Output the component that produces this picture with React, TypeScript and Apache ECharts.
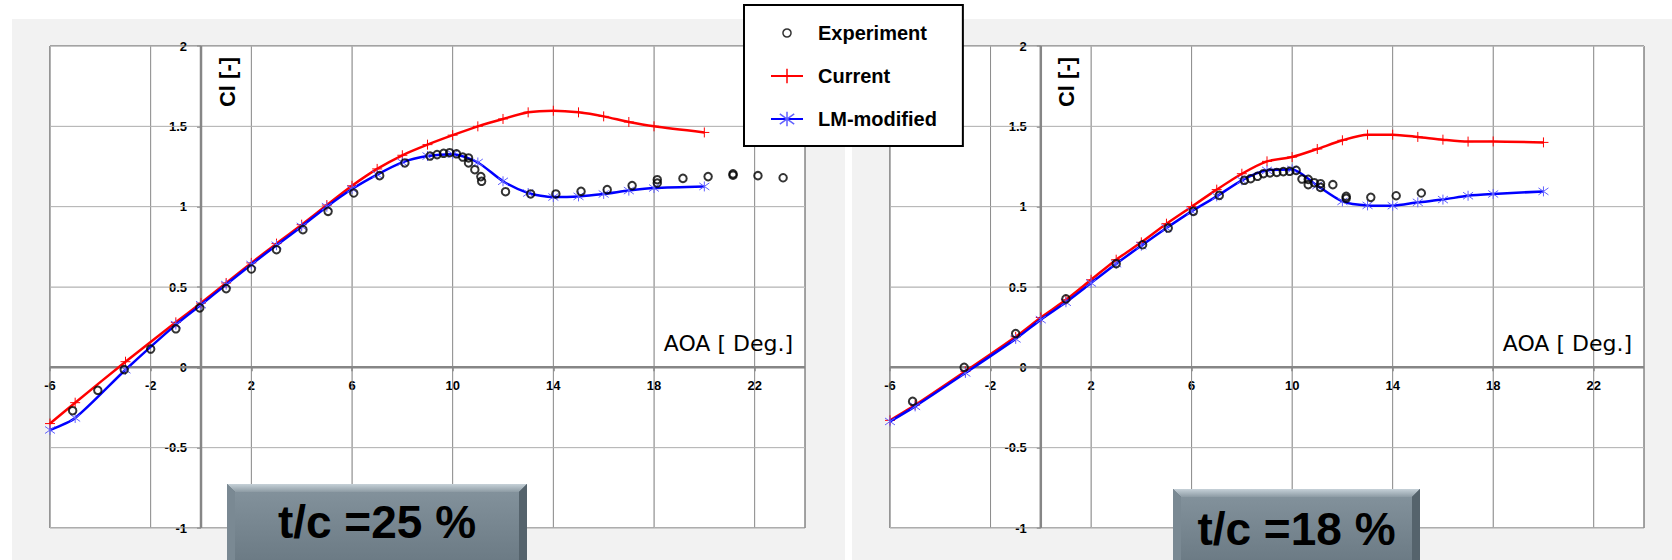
import React, { useEffect, useRef } from 'react';
import * as echarts from 'echarts';

// ---------- data ----------
const calcAoa = [-6, -5, -3, -1, 0, 1, 2, 3, 4, 5, 6, 7, 8, 9, 10, 11, 12, 13, 14, 15, 16, 17, 18, 20];

const current25 = [-0.35, -0.22, 0.035, 0.28, 0.4, 0.525, 0.65, 0.77, 0.888, 1.01, 1.13, 1.235, 1.32, 1.386, 1.445, 1.5, 1.546, 1.587, 1.597, 1.587, 1.562, 1.527, 1.5, 1.462];
const lmModified25 = [-0.39, -0.315, -0.015, 0.266, 0.39, 0.515, 0.64, 0.76, 0.877, 1.0, 1.11, 1.2, 1.276, 1.315, 1.327, 1.275, 1.158, 1.085, 1.06, 1.064, 1.079, 1.1, 1.116, 1.126];

const current18 = [-0.33, -0.235, -0.025, 0.19, 0.31, 0.42, 0.545, 0.67, 0.778, 0.894, 1.0, 1.106, 1.205, 1.282, 1.309, 1.359, 1.413, 1.448, 1.448, 1.434, 1.417, 1.405, 1.406, 1.4];
const lmModified18 = [-0.337, -0.243, -0.035, 0.177, 0.297, 0.405, 0.525, 0.645, 0.757, 0.867, 0.971, 1.064, 1.164, 1.226, 1.232, 1.131, 1.033, 1.008, 1.006, 1.027, 1.044, 1.068, 1.079, 1.095];

const expAoa25 = [-5.1, -4.1, -3.05, -2.0, -1.0, -0.05, 1.0, 2.0, 3.0, 4.05, 5.05, 6.07, 7.1, 8.1, 9.1, 9.38, 9.64, 9.88, 10.15, 10.4, 10.63, 10.63, 10.88, 11.12, 11.15, 12.1, 13.1, 14.1, 15.1, 16.14, 17.13, 18.13, 18.13, 19.15, 20.15, 21.14, 21.14, 22.13, 23.13];
const expCl25 = [-0.27, -0.143, -0.014, 0.114, 0.24, 0.37, 0.49, 0.612, 0.732, 0.857, 0.971, 1.085, 1.193, 1.272, 1.315, 1.324, 1.332, 1.336, 1.329, 1.309, 1.303, 1.272, 1.23, 1.187, 1.158, 1.093, 1.079, 1.079, 1.095, 1.106, 1.131, 1.168, 1.147, 1.176, 1.187, 1.204, 1.196, 1.193, 1.18];

const expAoa18 = [-5.1, -3.05, -1.0, 1.0, 3.0, 4.05, 5.07, 6.07, 7.1, 8.1, 8.35, 8.62, 8.86, 9.12, 9.39, 9.65, 9.9, 10.16, 10.39, 10.64, 10.64, 10.88, 11.13, 11.13, 11.62, 12.15, 12.15, 13.13, 14.14, 15.14];
const expCl18 = [-0.212, 0.0, 0.21, 0.426, 0.645, 0.763, 0.867, 0.971, 1.07, 1.164, 1.174, 1.189, 1.205, 1.21, 1.213, 1.218, 1.22, 1.226, 1.172, 1.17, 1.137, 1.149, 1.143, 1.12, 1.137, 1.064, 1.052, 1.058, 1.068, 1.085];

const xTickLabels = [-6, -2, 2, 6, 10, 14, 18, 22];
const yTickLabels = [-1, -0.5, 0, 0.5, 1, 1.5, 2];
const seriesNames = ['Experiment', 'Current', 'LM-modified'];
const panelTitles = ['t/c =25 %', 't/c =18 %'];
const xAxisName = 'AOA [ Deg.]';
const yAxisName = 'Cl [-]';

// ---------- styles / layout ----------
const FONT = '"Liberation Sans", Arial, sans-serif';
const PLUS = 'path://M5,0L5,10M0,5L10,5';
const STAR = 'path://M5,0L5,10M0,1.5L10,8.5M10,1.5L0,8.5';
const RING_ICON = 'path://M0,0ZM20,20ZM14.5,10A4.5,4.5,0,1,1,5.5,10A4.5,4.5,0,1,1,14.5,10Z';

const X_MIN = -6;
const X_MAX = 24;
const X_STEP = 2;
const Y_MIN = -1;
const Y_MAX = 2;
const Y_STEP = 0.25;

const AXIS_COLOR = '#868686';
const MAJOR_X = '#8c8c8c';
const MAJOR_Y = '#b4b4b4';
const MINOR = '#d6d6d6';

const grids = [
  { left: 50, top: 46, width: 755, height: 482 },
  { left: 890, top: 46, width: 754, height: 482 },
];
const boxes = [
  { x: 227, y: 484, w: 300, textY: 522 },
  { x: 1173, y: 489, w: 247, textY: 529 },
];

const zip = (xs: number[], ys: number[]) => xs.map((x, i) => [x, ys[i]]);

// full-height / full-width reference lines in data space, separated by gaps
const verticalLines = (xs: number[]) => xs.flatMap((x) => [[x, Y_MIN], [x, Y_MAX], [x, '-']]);
const horizontalLines = (ys: number[]) => ys.flatMap((y) => [[X_MIN, y], [X_MAX, y], ['-', y]]);

function buildOption() {
  const sets = [
    { current: current25, lm: lmModified25, expX: expAoa25, expY: expCl25 },
    { current: current18, lm: lmModified18, expX: expAoa18, expY: expCl18 },
  ];

  // axes are placed on the zero lines of each other (Excel style)
  const xAxes = grids.map((g, i) => ({
    type: 'value',
    gridIndex: i,
    min: X_MIN,
    max: X_MAX,
    interval: X_STEP,
    position: 'bottom',
    offset: -((0 - Y_MIN) / (Y_MAX - Y_MIN)) * g.height,
    axisLine: { show: false, onZero: false },
    axisTick: { show: true, length: 4, customValues: xTickLabels, lineStyle: { color: AXIS_COLOR, width: 1.5 } },
    axisLabel: {
      customValues: xTickLabels,
      formatter: (v: number) => (xTickLabels.includes(v) ? String(v) : ''),
      margin: 12,
      fontSize: 13,
      fontWeight: 'bold',
      color: '#000',
      fontFamily: FONT,
    },
    splitLine: { show: true, lineStyle: { color: MINOR, width: 1 } },
  }));

  const yAxes = grids.map((g, i) => ({
    type: 'value',
    gridIndex: i,
    min: Y_MIN,
    max: Y_MAX,
    interval: Y_STEP,
    position: 'left',
    offset: -((0 - X_MIN) / (X_MAX - X_MIN)) * g.width,
    axisLine: { show: false, onZero: false },
    axisTick: { show: true, length: 4, customValues: yTickLabels, lineStyle: { color: AXIS_COLOR, width: 1.5 } },
    axisLabel: {
      customValues: yTickLabels,
      formatter: (v: number) => (yTickLabels.includes(v) ? String(v) : ''),
      margin: 14,
      fontSize: 13,
      fontWeight: 'bold',
      color: '#000',
      fontFamily: FONT,
    },
    splitLine: { show: true, lineStyle: { color: MINOR, width: 1 } },
  }));

  const refLine = (name: string, i: number, data: any[], color: string, width: number, z: number) => ({
    name,
    type: 'line',
    xAxisIndex: i,
    yAxisIndex: i,
    data,
    symbol: 'none',
    silent: true,
    connectNulls: false,
    lineStyle: { color, width },
    z,
  });

  const series: any[] = [];
  sets.forEach((s, i) => {
    series.push(refLine('x-major-grid', i, verticalLines(xTickLabels), MAJOR_X, 1, 1));
    series.push(refLine('y-major-grid', i, horizontalLines(yTickLabels.filter((v) => v !== 0)), MAJOR_Y, 1, 1));
    series.push(refLine('zero-axes', i, [...verticalLines([0]), ...horizontalLines([0])], AXIS_COLOR, 2.5, 2));
    series.push({
      name: seriesNames[0],
      type: 'scatter',
      xAxisIndex: i,
      yAxisIndex: i,
      data: zip(s.expX, s.expY),
      symbol: 'circle',
      symbolSize: 7.5,
      itemStyle: { color: 'rgba(255,255,255,0)', borderColor: '#000', borderWidth: 2 },
      z: 5,
    });
    series.push({
      name: seriesNames[1],
      type: 'line',
      xAxisIndex: i,
      yAxisIndex: i,
      data: zip(calcAoa, s.current),
      smooth: 0.25,
      symbol: PLUS,
      symbolSize: 10,
      showAllSymbol: true,
      lineStyle: { color: '#ff0000', width: 2.5 },
      itemStyle: { color: '#ff0000', borderColor: '#ff0000', borderWidth: 1 },
      z: 3,
    });
    series.push({
      name: seriesNames[2],
      type: 'line',
      xAxisIndex: i,
      yAxisIndex: i,
      data: zip(calcAoa, s.lm),
      smooth: 0.25,
      symbol: STAR,
      symbolSize: 10,
      showAllSymbol: true,
      lineStyle: { color: '#0000ff', width: 2.5 },
      itemStyle: { color: '#0000ff', borderColor: '#6060ff', borderWidth: 1 },
      z: 4,
    });
  });

  const graphics: any[] = [
    { type: 'rect', z: -100, shape: { x: 12, y: 19, width: 833, height: 541 }, style: { fill: '#f2f2f2' } },
    { type: 'rect', z: -100, shape: { x: 852, y: 19, width: 820, height: 541 }, style: { fill: '#f2f2f2' } },
  ];

  grids.forEach((g) => {
    const yZeroX = g.left + ((0 - X_MIN) / (X_MAX - X_MIN)) * g.width;
    graphics.push({
      type: 'text',
      z: 50,
      x: yZeroX + 26,
      y: 82,
      rotation: Math.PI / 2,
      style: {
        text: yAxisName,
        fill: '#000',
        font: `bold 22px ${FONT}`,
        align: 'center',
        verticalAlign: 'middle',
      },
    });
    graphics.push({
      type: 'text',
      z: 50,
      x: g.left + g.width - 12,
      y: 343,
      style: {
        text: xAxisName,
        fill: '#000',
        font: `22px "DejaVu Sans", sans-serif`,
        align: 'right',
        verticalAlign: 'middle',
      },
    });
  });

  boxes.forEach((b, i) => {
    const b8 = 8;
    const bottom = 566;
    const right = b.x + b.w;
    graphics.push({ type: 'rect', z: 100, shape: { x: b.x, y: b.y, width: b.w, height: bottom - b.y }, style: { fill: '#56646d' } });
    graphics.push({
      type: 'polygon',
      z: 101,
      shape: { points: [[b.x, b.y], [right, b.y], [right - b8, b.y + b8], [b.x + b8, b.y + b8]] },
      style: { fill: new echarts.graphic.LinearGradient(0, 0, 0, 1, [{ offset: 0, color: '#c6d1d8' }, { offset: 1, color: '#8d9ba4' }]) },
    });
    graphics.push({
      type: 'polygon',
      z: 101,
      shape: { points: [[b.x, b.y], [b.x + b8, b.y + b8], [b.x + b8, bottom], [b.x, bottom]] },
      style: { fill: '#7a8993' },
    });
    graphics.push({
      type: 'polygon',
      z: 101,
      shape: { points: [[right, b.y], [right - b8, b.y + b8], [right - b8, bottom], [right, bottom]] },
      style: { fill: '#55636c' },
    });
    graphics.push({
      type: 'rect',
      z: 102,
      shape: { x: b.x + b8, y: b.y + b8, width: b.w - 2 * b8, height: bottom - b.y - b8 },
      style: { fill: new echarts.graphic.LinearGradient(0, 0, 0, 1, [{ offset: 0, color: '#82919b' }, { offset: 1, color: '#6a7983' }]) },
    });
    graphics.push({
      type: 'text',
      z: 103,
      x: b.x + b.w / 2,
      y: b.textY,
      style: {
        text: panelTitles[i],
        fill: '#000',
        font: `bold 46px ${FONT}`,
        align: 'center',
        verticalAlign: 'middle',
      },
    });
  });

  return {
    animation: false,
    backgroundColor: '#ffffff',
    grid: grids.map((g) => ({
      ...g,
      show: true,
      backgroundColor: '#ffffff',
      borderColor: '#4a4a4a',
      borderWidth: 1,
      containLabel: false,
    })),
    xAxis: xAxes,
    yAxis: yAxes,
    legend: {
      orient: 'vertical',
      left: 744,
      top: 5,
      z: 60,
      backgroundColor: '#ffffff',
      borderColor: '#000000',
      borderWidth: 2,
      padding: [18, 26, 17, 26],
      itemWidth: 32,
      itemHeight: 18,
      itemGap: 23,
      itemStyle: { borderWidth: 1.5 },
      textStyle: { fontSize: 20, fontWeight: 'bold', color: '#000', fontFamily: FONT, padding: [0, 0, 0, 10] },
      data: [
        { name: seriesNames[0], icon: RING_ICON },
        { name: seriesNames[1] },
        { name: seriesNames[2] },
      ],
    },
    graphic: { elements: graphics },
    series,
  };
}

export default function App() {
  const ref = useRef<HTMLDivElement>(null);
  useEffect(() => {
    document.body.style.margin = '0';
    const chart = echarts.init(ref.current as HTMLDivElement, undefined, { renderer: 'svg' });
    chart.setOption(buildOption() as any);
    return () => {
      chart.dispose();
    };
  }, []);
  return <div ref={ref} style={{ width: 1672, height: 560 }} />;
}
